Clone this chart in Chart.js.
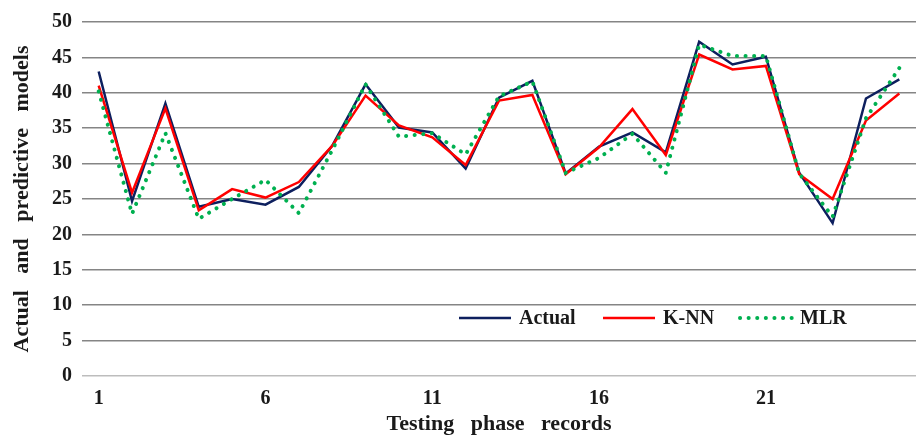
<!DOCTYPE html>
<html>
<head>
<meta charset="utf-8">
<script src="https://cdn.jsdelivr.net/npm/chart.js@4/dist/chart.umd.min.js"></script>
<style>
  html, body { margin: 0; padding: 0; background: #fff; }
  #wrap { width: 917px; height: 442px; }
</style>
</head>
<body>
<div id="wrap"><canvas id="chart"></canvas></div>
<script>
// --- data ---
const records = Array.from({ length: 25 }, (_, i) => String(i + 1));
const actual = [43.0, 24.7, 38.5, 23.9, 25.0, 24.2, 26.7, 32.5, 41.2, 35.1, 34.4, 29.3, 39.3, 41.7, 28.6,
                32.4, 34.4, 31.6, 47.2, 44.0, 45.1, 28.7, 21.6, 39.2, 41.9];
const knn    = [41.0, 25.9, 37.8, 23.4, 26.4, 25.2, 27.4, 32.5, 39.6, 35.4, 33.7, 29.8, 38.9, 39.7, 28.5,
                32.3, 37.7, 31.2, 45.4, 43.3, 43.8, 28.5, 25.0, 36.1, 39.9];
const mlr    = [40.2, 22.9, 34.3, 22.2, 25.0, 27.7, 23.0, 31.9, 41.2, 33.8, 34.3, 31.3, 39.5, 41.6, 28.7,
                30.8, 34.2, 28.7, 46.8, 45.2, 45.2, 28.6, 22.5, 36.4, 43.5];
const yTicks = [0, 5, 10, 15, 20, 25, 30, 35, 40, 45, 50];

const FONT = "'Liberation Serif', 'DejaVu Serif', serif";
const INK = '#1a1a1a';

// legend drawn inside the plot, low right
const inPlotLegend = {
    id: 'inPlotLegend',
    afterDatasetsDraw(c) {
        const ctx = c.ctx;
        const y = c.scales.y.getPixelForValue(8.2);
        const items = [
            { x: 459, label: 'Actual', ds: 2 },
            { x: 603, label: 'K-NN', ds: 1 },
            { x: 740, label: 'MLR', ds: 0 }
        ];
        ctx.save();
        ctx.font = "bold 20px " + FONT;
        ctx.textBaseline = 'middle';
        items.forEach(it => {
            const d = c.data.datasets[it.ds];
            ctx.beginPath();
            ctx.strokeStyle = d.borderColor;
            ctx.lineWidth = d.borderDash ? 4 : 2.5;
            ctx.lineCap = d.borderDash ? 'round' : 'butt';
            ctx.setLineDash(d.borderDash || []);
            ctx.moveTo(it.x, y);
            ctx.lineTo(it.x + 52, y);
            ctx.stroke();
            ctx.setLineDash([]);
            ctx.fillStyle = INK;
            ctx.fillText(it.label, it.x + 60, y + 1);
        });
        ctx.restore();
    }
};

const ctx = document.getElementById('chart').getContext('2d');
new Chart(ctx, {
    type: 'line',
    data: {
        labels: records,
        datasets: [
            { label: 'MLR', data: mlr, borderColor: '#00b050', borderWidth: 4, borderDash: [0.1, 8.5],
              borderCapStyle: 'round', pointRadius: 0, tension: 0, order: 0 },
            { label: 'K-NN', data: knn, borderColor: '#ff0000', borderWidth: 2.5,
              pointRadius: 0, tension: 0, order: 1 },
            { label: 'Actual', data: actual, borderColor: '#0d1f5e', borderWidth: 2.5,
              pointRadius: 0, tension: 0, order: 2 }
        ]
    },
    options: {
        responsive: true,
        maintainAspectRatio: false,
        animation: false,
        layout: { padding: { top: 10, right: 1, left: 0, bottom: 0 } },
        plugins: { legend: { display: false }, tooltip: { enabled: false } },
        scales: {
            x: {
                offset: true,
                grid: { display: false },
                border: { display: false },
                ticks: {
                    autoSkip: false, maxRotation: 0, color: INK, padding: 3,
                    font: { family: FONT, size: 20, weight: 'bold' },
                    callback: (v, i) => (i % 5 === 0 ? records[i] : '')
                },
                title: {
                    display: true, text: 'Testing   phase   records', color: INK,
                    font: { family: FONT, size: 22, weight: 'bold' }, padding: { top: 2 }
                },
                afterFit: s => { s.height = 66; }
            },
            y: {
                min: 0, max: 50,
                afterBuildTicks: s => { s.ticks = yTicks.map(v => ({ value: v })); },
                grid: {
                    drawTicks: false, lineWidth: 1.5,
                    color: c => (c.tick && c.tick.value === 0 ? '#bdbdbd' : '#858585')
                },
                border: { display: false },
                ticks: {
                    color: INK, padding: 10,
                    font: { family: FONT, size: 20, weight: 'bold' }
                },
                title: {
                    display: true, text: 'Actual   and   predictive   models', color: INK,
                    font: { family: FONT, size: 22, weight: 'bold' }, padding: { top: 9, bottom: 0 }
                },
                afterFit: s => { s.width = 82; }
            }
        }
    },
    plugins: [inPlotLegend]
});
</script>
</body>
</html>
